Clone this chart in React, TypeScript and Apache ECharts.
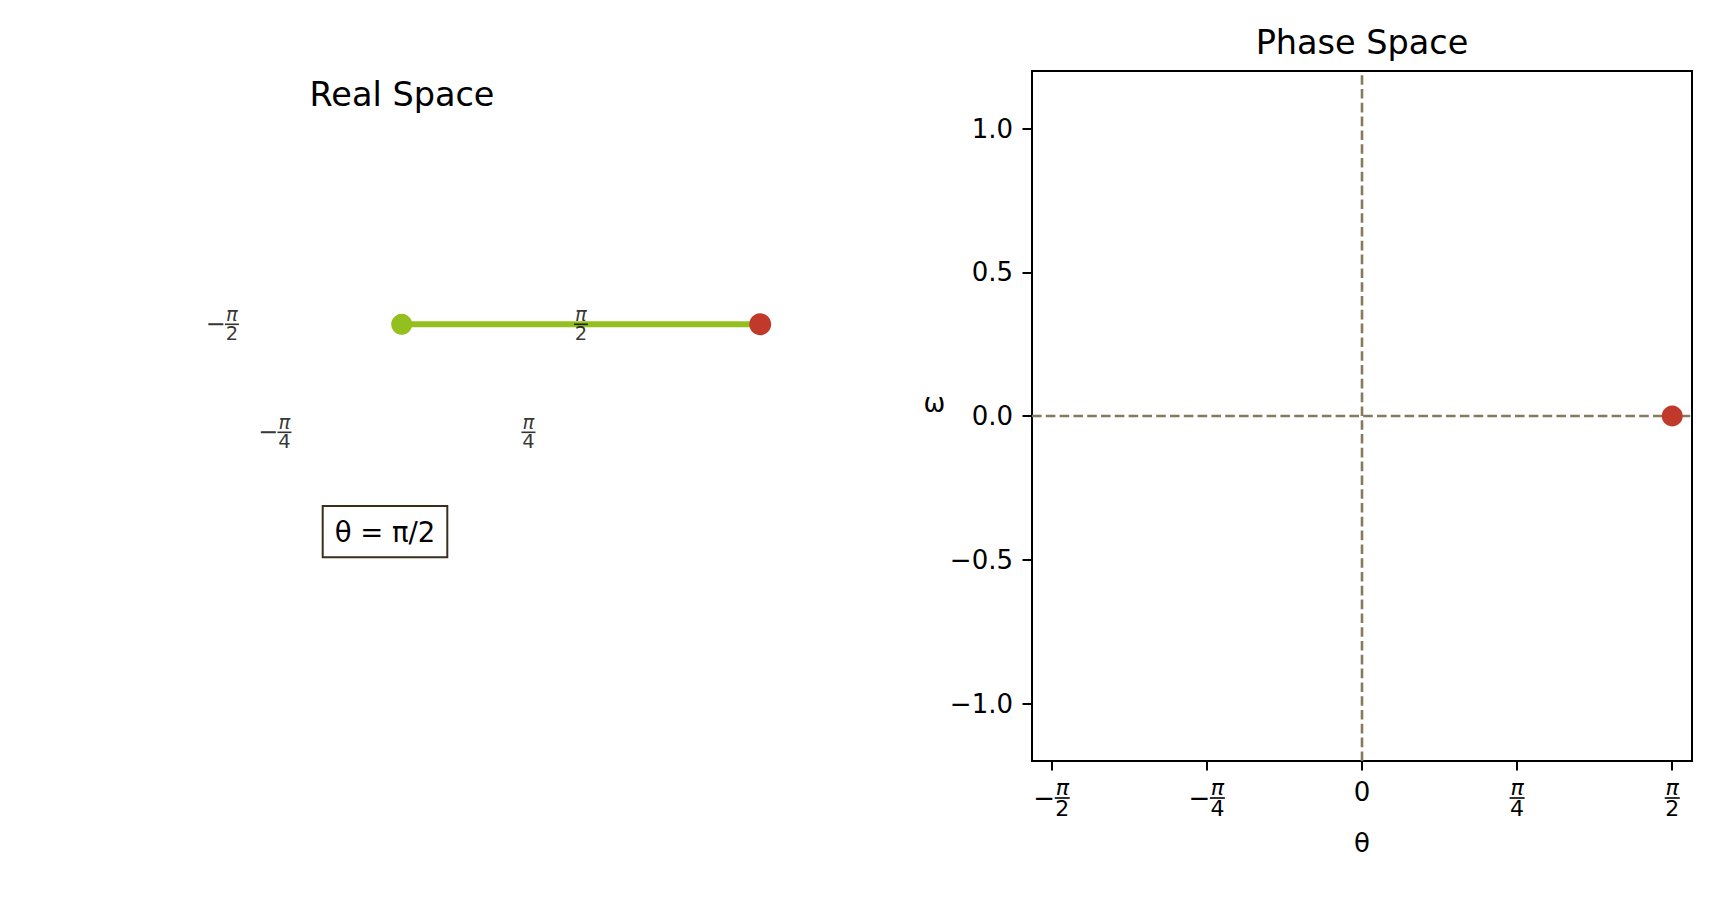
import React, { useEffect, useRef } from 'react';
import * as echarts from 'echarts';

const FONT = 'DejaVu Sans';
const GREEN = '#93c01f';
const RED = '#c0392b';
const DASH_COLOR = '#857a5b';

// ---- data ----
// current pendulum state
const thetaNow = Math.PI / 2;
const omegaNow = 0;
const angleText = 'θ = π/2';

// real space: pivot and bob (x = sin θ, y = -cos θ, rod length 1)
const pivotPoint = [0, 0];
const bobPoint = [1, 0];
const realTickAngles = [-Math.PI / 2, -Math.PI / 4, Math.PI / 4, Math.PI / 2];
const realTickLabels = [
  { sign: '−', num: 'π', den: '2' },
  { sign: '−', num: 'π', den: '4' },
  { sign: '', num: 'π', den: '4' },
  { sign: '', num: 'π', den: '2' },
];
const realTickRadius = 0.5;

// phase space
const phaseXTicks = [-Math.PI / 2, -Math.PI / 4, 0, Math.PI / 4, Math.PI / 2];
const phaseXLabels: any[] = [
  { sign: '−', num: 'π', den: '2' },
  { sign: '−', num: 'π', den: '4' },
  '0',
  { sign: '', num: 'π', den: '4' },
  { sign: '', num: 'π', den: '2' },
];
const phaseYTicks = [-1, -0.5, 0, 0.5, 1];
const phaseXRange = [-(Math.PI / 2 + 0.1), Math.PI / 2 + 0.1];
const phaseYRange = [-1.2, 1.2];

function fracText(l: any): string {
  if (typeof l === 'string') return l;
  const lead = l.sign ? '{sp|}' : '';
  const mid = l.sign ? `{m|${l.sign}}` : '';
  return `${lead}{n|${l.num}}\n${mid}{bar|}\n${lead}{d|${l.den}}`;
}

function makeRich(numSize: number, minusSize: number, minusW: number, barW: number, l1: number, l2: number, l3: number) {
  return {
    sp: { width: minusW, lineHeight: 1, align: 'center' },
    n: { fontFamily: FONT, fontSize: numSize, fontStyle: 'italic', lineHeight: l1, width: barW, align: 'center', color: '#000' },
    m: { fontFamily: FONT, fontSize: minusSize, lineHeight: l2, width: minusW, align: 'center', color: '#000' },
    bar: { width: barW, height: 1.6, lineHeight: l2, backgroundColor: '#000', align: 'center' },
    d: { fontFamily: FONT, fontSize: numSize, lineHeight: l3, width: barW, align: 'center', color: '#000' },
  };
}

const axisRich = makeRich(22, 26, 21, 15, 16, 6, 14);
const realRich = makeRich(19.5, 24, 19, 14, 13, 6, 13);

function nearestIndex(arr: number[], v: number) {
  let best = 0;
  for (let i = 1; i < arr.length; i++) if (Math.abs(arr[i] - v) < Math.abs(arr[best] - v)) best = i;
  return best;
}

export default function App() {
  const ref = useRef<HTMLDivElement>(null);
  useEffect(() => {
    const chart = echarts.init(ref.current!, undefined, { renderer: 'svg' });
    const option: any = {
      animation: false,
      backgroundColor: '#ffffff',
      textStyle: { fontFamily: FONT },
      grid: [
        { left: 43.2, top: 18.8, width: 717, height: 611, show: false, outerBoundsMode: 'none' },
        {
          left: 1032, top: 71, width: 660, height: 690, show: true,
          borderColor: '#000', borderWidth: 2, backgroundColor: 'transparent', outerBoundsMode: 'none',
        },
      ],
      xAxis: [
        { gridIndex: 0, type: 'value', min: -1, max: 1, show: false },
        {
          gridIndex: 1, type: 'value', min: phaseXRange[0], max: phaseXRange[1],
          axisLine: { show: false, onZero: false },
          splitLine: { show: false },
          axisTick: { show: true, length: 9.5, lineStyle: { color: '#000', width: 2 }, customValues: phaseXTicks },
          axisLabel: {
            customValues: phaseXTicks, margin: 18, color: '#000', fontSize: 26, fontFamily: FONT,
            formatter: (v: number) => fracText(phaseXLabels[nearestIndex(phaseXTicks, v)]),
            rich: axisRich,
          },
          name: 'θ', nameLocation: 'middle', nameGap: 81.5, nameMoveOverlap: false,
          nameTextStyle: { fontFamily: FONT, fontSize: 26, color: '#000', verticalAlign: 'middle', align: 'center' },
        },
      ],
      yAxis: [
        { gridIndex: 0, type: 'value', min: -1, max: 1, show: false },
        {
          gridIndex: 1, type: 'value', min: phaseYRange[0], max: phaseYRange[1],
          axisLine: { show: false, onZero: false },
          splitLine: { show: false },
          axisTick: { show: true, length: 9.5, lineStyle: { color: '#000', width: 2 }, customValues: phaseYTicks },
          axisLabel: {
            customValues: phaseYTicks, margin: 19, color: '#000', fontSize: 26, fontFamily: FONT,
            formatter: (v: number) => (v < 0 ? '−' : '') + Math.abs(v).toFixed(1),
          },
          name: 'ω', nameLocation: 'middle', nameGap: 97.5, nameRotate: 0, nameMoveOverlap: false,
          nameTextStyle: { fontFamily: FONT, fontSize: 26, color: '#000', verticalAlign: 'bottom', align: 'center', lineHeight: 26 },
        },
      ],
      series: [
        {
          type: 'line', xAxisIndex: 0, yAxisIndex: 0, data: [pivotPoint, bobPoint],
          symbol: 'none', clip: false, z: 2,
          lineStyle: { color: GREEN, width: 6 },
        },
        {
          type: 'scatter', xAxisIndex: 0, yAxisIndex: 0, data: [pivotPoint],
          symbolSize: 21, clip: false, z: 3, itemStyle: { color: GREEN, opacity: 1 },
        },
        {
          type: 'scatter', xAxisIndex: 0, yAxisIndex: 0, data: [bobPoint],
          symbolSize: 22, clip: false, z: 3, itemStyle: { color: RED, opacity: 1 },
        },
        {
          type: 'scatter', xAxisIndex: 0, yAxisIndex: 0, clip: false, z: 6,
          symbolSize: 0, silent: true,
          data: realTickAngles.map((a) => [realTickRadius * Math.sin(a), -realTickRadius * Math.cos(a)]),
          label: {
            show: true, position: 'inside', color: '#000', fontFamily: FONT,
            formatter: (p: any) => fracText(realTickLabels[p.dataIndex]),
            rich: realRich,
          },
        },
        {
          type: 'line', xAxisIndex: 1, yAxisIndex: 1, symbol: 'none', z: 2,
          data: [[phaseXRange[0], 0], [phaseXRange[1], 0]],
          lineStyle: { color: DASH_COLOR, width: 2.6, type: [9.6, 4.2] },
        },
        {
          type: 'line', xAxisIndex: 1, yAxisIndex: 1, symbol: 'none', z: 2,
          data: [[0, phaseYRange[0]], [0, phaseYRange[1]]],
          lineStyle: { color: DASH_COLOR, width: 2.6, type: [9.6, 4.2] },
        },
        {
          type: 'scatter', xAxisIndex: 1, yAxisIndex: 1, data: [[thetaNow, omegaNow]],
          symbolSize: 21, clip: false, z: 4, itemStyle: { color: RED, opacity: 1 },
        },
      ],
      graphic: [
        {
          type: 'text', x: 402, y: 94.5,
          style: { text: 'Real Space', fontFamily: FONT, fontSize: 33.5, fill: '#000', align: 'center', verticalAlign: 'middle' },
        },
        {
          type: 'text', x: 1362, y: 42.5,
          style: { text: 'Phase Space', fontFamily: FONT, fontSize: 33.5, fill: '#000', align: 'center', verticalAlign: 'middle' },
        },
        {
          type: 'rect', shape: { x: 322.7, y: 506, width: 124.6, height: 51.3 },
          style: { fill: '#ffffff', stroke: '#3a3019', lineWidth: 2 },
        },
        {
          type: 'text', x: 385, y: 531.7,
          style: { text: angleText, fontFamily: FONT, fontSize: 27.5, fill: '#000', align: 'center', verticalAlign: 'middle' },
        },
      ],
    };
    chart.setOption(option);
    return () => chart.dispose();
  }, []);
  return <div ref={ref} style={{ position: 'fixed', left: 0, top: 0, width: 1736, height: 902 }} />;
}
